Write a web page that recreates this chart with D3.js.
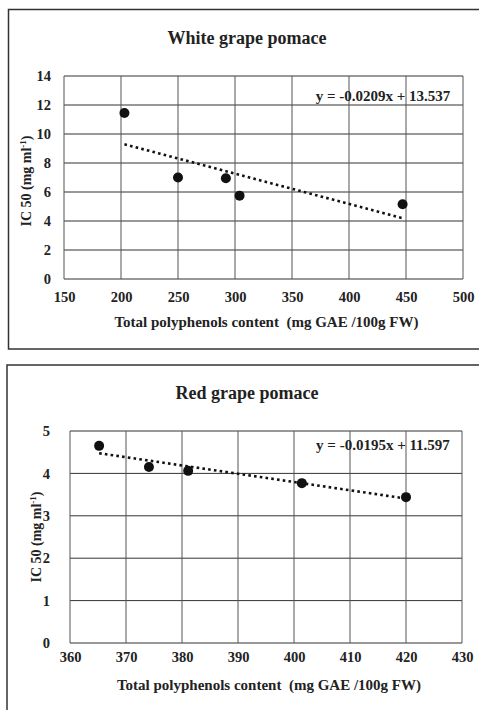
<!DOCTYPE html>
<html>
<head>
<meta charset="utf-8">
<script src="https://cdn.jsdelivr.net/npm/d3@7"></script>
<style>
body { margin: 0; background: #fff; }
text { font-family: "Liberation Serif", "Times New Roman", serif; font-weight: bold; fill: #222; }
</style>
</head>
<body>
<div class="chart"></div>
<script>
// white grape pomace
const whiteTpc = [203, 250, 292, 304, 447];
const whiteIc50 = [11.45, 7.0, 6.95, 5.75, 5.15];
const whiteSlope = -0.0209, whiteIntercept = 13.537;
const whiteXTicks = [150, 200, 250, 300, 350, 400, 450, 500];
const whiteYTicks = [0, 2, 4, 6, 8, 10, 12, 14];

// red grape pomace
const redTpc = [365.2, 374.1, 381.1, 401.4, 420];
const redIc50 = [4.65, 4.15, 4.06, 3.77, 3.44];
const redSlope = -0.0195, redIntercept = 11.597;
const redXTicks = [360, 370, 380, 390, 400, 410, 420, 430];
const redYTicks = [0, 1, 2, 3, 4, 5];

var svg = d3.select('.chart')
    .append('svg')
    .attr("width", 479)
    .attr("height", 710);

var drawPanel = function (opt) {
    var g = svg.append("g");

    // outer frame
    g.append("rect")
        .attr("x", opt.frame[0])
        .attr("y", opt.frame[1])
        .attr("width", opt.frame[2])
        .attr("height", opt.frame[3])
        .style("fill", "none")
        .style("stroke", "#333")
        .style("stroke-width", 1.5);

    var x = d3.scaleLinear()
        .domain(d3.extent(opt.xTicks))
        .range([opt.left, opt.right]);

    var y = d3.scaleLinear()
        .domain(d3.extent(opt.yTicks))
        .range([opt.bottom, opt.top]);

    // grid
    g.selectAll(".hgrid")
        .data(opt.yTicks)
        .enter()
        .append("line")
        .attr("x1", opt.left).attr("x2", opt.right)
        .attr("y1", d => y(d)).attr("y2", d => y(d))
        .style("stroke", "#333")
        .style("stroke-width", 1);

    g.selectAll(".vgrid")
        .data(opt.xTicks)
        .enter()
        .append("line")
        .attr("x1", d => x(d)).attr("x2", d => x(d))
        .attr("y1", opt.top).attr("y2", opt.bottom)
        .style("stroke", "#555")
        .style("stroke-width", 1);

    // axes (labels only, ticks hidden)
    var xAxis = g.append("g")
        .attr("transform", "translate(0," + opt.bottom + ")")
        .call(d3.axisBottom(x).tickValues(opt.xTicks).tickFormat(d3.format("d"))
            .tickSize(0).tickPadding(opt.xPad));
    var yAxis = g.append("g")
        .attr("transform", "translate(" + opt.left + ",0)")
        .call(d3.axisLeft(y).tickValues(opt.yTicks).tickFormat(d3.format("d"))
            .tickSize(0).tickPadding(opt.yPad));
    [xAxis, yAxis].forEach(function (a) {
        a.select(".domain").remove();
        a.selectAll("text")
            .style("font-family", '"Liberation Serif", serif')
            .style("font-weight", "bold")
            .style("font-size", "14.5px")
            .style("fill", "#222");
    });

    // trend line (dotted)
    var tx = d3.extent(opt.xs);
    g.append("line")
        .attr("x1", x(tx[0])).attr("y1", y(opt.slope * tx[0] + opt.intercept))
        .attr("x2", x(tx[1])).attr("y2", y(opt.slope * tx[1] + opt.intercept))
        .style("stroke", "#111")
        .style("stroke-width", 2.6)
        .style("stroke-dasharray", "2.6,3.2");

    // points
    g.selectAll(".pt")
        .data(opt.xs)
        .enter()
        .append("circle")
        .attr("cx", d => x(d))
        .attr("cy", (d, i) => y(opt.ys[i]))
        .attr("r", 5)
        .style("fill", "#111");

    // equation
    g.append("text")
        .attr("x", opt.eq[0])
        .attr("y", opt.eq[1])
        .attr("text-anchor", "middle")
        .style("font-size", "15px")
        .text("y = " + opt.slope + "x + " + opt.intercept.toFixed(3));

    // title
    g.append("text")
        .attr("x", 247)
        .attr("y", opt.titleY)
        .attr("text-anchor", "middle")
        .style("font-size", "18px")
        .text(opt.title);

    // axis titles
    g.append("text")
        .attr("x", (opt.left + opt.right) / 2 + 3)
        .attr("y", opt.xTitleY)
        .attr("text-anchor", "middle")
        .style("font-size", "15px")
        .text("Total polyphenols content\u00a0 (mg GAE /100g FW)");

    var yt = g.append("text")
        .attr("transform", "translate(" + opt.yTitleX + "," + opt.yTitleMid + ") rotate(-90)")
        .attr("text-anchor", "middle")
        .style("font-size", "14px");
    yt.append("tspan").text("IC 50 (mg ml");
    yt.append("tspan").attr("dy", -5).style("font-size", "9px").text("-1");
    yt.append("tspan").attr("dy", 5).text(")");
};

drawPanel({
    frame: [8.5, 9.5, 480, 339.5],
    left: 64, right: 463, top: 76, bottom: 279,
    xTicks: whiteXTicks, yTicks: whiteYTicks,
    xs: whiteTpc, ys: whiteIc50,
    slope: whiteSlope, intercept: whiteIntercept,
    eq: [383, 101], title: "White grape pomace", titleY: 44,
    xTitleY: 327, yTitleX: 31, yTitleMid: 181, xPad: 13, yPad: 13
});

drawPanel({
    frame: [7, 365, 480, 360],
    left: 70, right: 462, top: 431, bottom: 643,
    xTicks: redXTicks, yTicks: redYTicks,
    xs: redTpc, ys: redIc50,
    slope: redSlope, intercept: redIntercept,
    eq: [383, 450], title: "Red grape pomace", titleY: 399,
    xTitleY: 690, yTitleX: 41, yTitleMid: 537, xPad: 9, yPad: 20
});
</script>
</body>
</html>
